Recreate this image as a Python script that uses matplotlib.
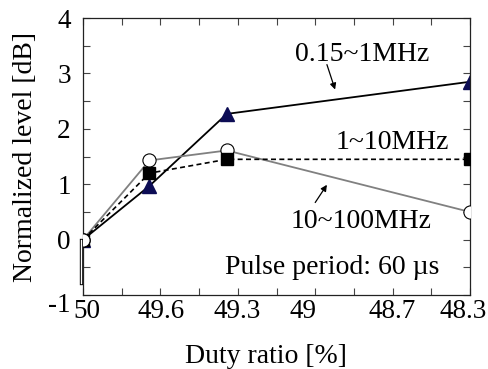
import matplotlib.pyplot as plt
import matplotlib.transforms as mtransforms
import numpy as np

# duty ratio [%] and normalized level [dB]
duty = [50, 49.7, 49.35, 48.25]
low_band = [0, 0.97, 2.27, 2.85]      # 0.15~1MHz
mid_band = [0, 1.20, 1.45, 1.45]      # 1~10MHz
high_band = [0, 1.43, 1.61, 0.50]     # 10~100MHz

xtick_labels = ['50', '49.6', '49.3', '49', '48.7', '48.3']
yticks = [-1, 0, 1, 2, 3, 4]
ytick_labels = ['-1', '0', '1', '2', '3', '4']

plt.rcParams['font.family'] = ['Liberation Serif', 'DejaVu Serif']
FS = 20

fig, ax = plt.subplots(figsize=(4.89, 3.69), dpi=100)
fig.subplots_adjust(left=0.170, right=0.961, top=0.951, bottom=0.2005)

ax.plot(duty, high_band, color='#808080', lw=1.3, marker='o', ms=9.5,
        mfc='white', mec='black', mew=0.8, zorder=3)
ax.plot(duty, mid_band, color='black', lw=1.2, ls=(0, (3, 2)), marker='s',
        ms=8.5, mfc='black', mec='black', zorder=4)
ax.plot(duty, low_band, color='black', lw=1.3, marker='^', ms=9.5,
        mfc='#0d0d55', mec='#0d0d55', zorder=2)
# redraw the first circle on top
ax.plot(duty[:1], high_band[:1], ls='none', marker='o', ms=9.5,
        mfc='white', mec='black', mew=0.8, zorder=5)

# vertical bar under the origin point
ax.plot([50.008, 50.008], [0, -0.78], color='black', lw=2.4, clip_on=False, zorder=1)
ax.plot([50.008, 50.008], [0, -0.78], color='white', lw=1.0, clip_on=False, zorder=1)

ax.set_xlim(50, 48.25)
ax.set_ylim(-1, 4)
xt = np.linspace(50, 48.25, 6)
ax.set_xticks(xt)
ax.set_xticklabels(xtick_labels)
ax.set_xticks((xt[:-1] + xt[1:]) / 2, minor=True)
ax.set_yticks(yticks)
ax.set_yticklabels(ytick_labels)
ax.set_yticks(np.arange(-0.5, 4, 1), minor=True)

ax.tick_params(which='both', direction='in', top=True, right=True,
               labelsize=19.5, width=0.8, color='#444444')
ax.tick_params(which='major', length=5)
ax.tick_params(axis='x', pad=3)
ax.tick_params(axis='y', pad=9)
ax.tick_params(which='minor', length=5)
for s in ax.spines.values():
    s.set_linewidth(0.9)
    s.set_color('#222222')

# nudge tick labels like in the original figure
x_nudge = [4, 1, -1, -12, 0, -7]
for lab, dx in zip(ax.get_xticklabels(), x_nudge):
    lab.set_transform(lab.get_transform() +
                      mtransforms.ScaledTranslation(dx / 100, 0, fig.dpi_scale_trans))
ylab0 = ax.get_yticklabels()[0]
ylab0.set_transform(ylab0.get_transform() +
                    mtransforms.ScaledTranslation(0, -7 / 100, fig.dpi_scale_trans))

ax.set_xlabel('Duty ratio [%]', fontsize=FS, labelpad=14)
ax.xaxis.label.set_x(0.473)
ax.set_ylabel('Normalized level [dB]', fontsize=FS, labelpad=7)

arrow = dict(arrowstyle='-|>', color='black', lw=0.9,
             shrinkA=0, shrinkB=0, mutation_scale=9)
ax.text(48.74, 3.34, '0.15~1MHz', fontsize=FS, ha='center', va='center')
ax.annotate('', xy=(48.86, 2.71), xytext=(48.897, 3.16), arrowprops=arrow)
ax.text(48.60, 1.75, '1~10MHz', fontsize=FS, ha='center', va='center')
ax.text(48.743, 0.32, '10~100MHz', fontsize=FS, ha='center', va='center')
ax.annotate('', xy=(48.897, 0.99), xytext=(48.95, 0.67), arrowprops=arrow)
ax.text(48.874, -0.5, 'Pulse period: 60 µs', fontsize=FS, ha='center', va='center')

fig.savefig('out.png', dpi=100)
